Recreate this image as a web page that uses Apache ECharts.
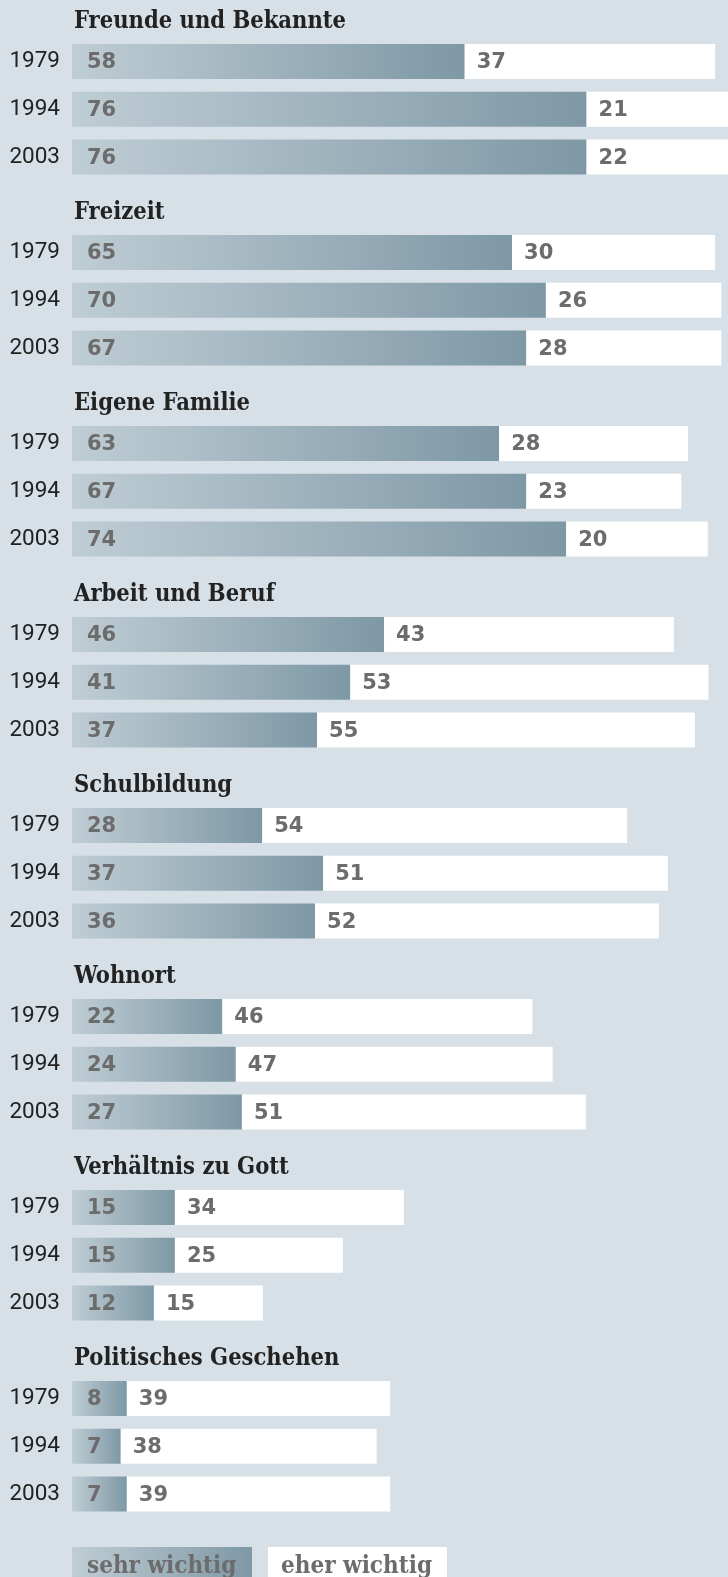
<!DOCTYPE html>
<html>
<head>
<meta charset="utf-8">
<script src="https://cdn.jsdelivr.net/npm/echarts@6/dist/echarts.min.js"></script>
<style>
html,body{margin:0;padding:0;background:#d7e0e7;}
#chart{width:728px;height:1577px;}
</style>
</head>
<body>
<div id="chart"></div>
<script>
// Categories
const groups = ['Freunde und Bekannte','Freizeit','Eigene Familie','Arbeit und Beruf','Schulbildung','Wohnort','Verhältnis zu Gott','Politisches Geschehen'];
const years = ['1979','1994','2003'];
// Bar lengths (percent)
const sehrWichtig = [[58,76,76],[65,70,67.1],[63.1,67.1,73],[46.1,41.1,36.2],[28.1,37.1,35.9],[22.2,24.2,25.1],[15.2,15.2,12.1],[8.1,7.2,8.1]];
const eherWichtig = [[37,21,22],[30,25.9,28.8],[27.9,22.9,20.9],[42.8,52.9,55.8],[53.9,50.9,50.8],[45.8,46.8,50.8],[33.8,24.8,16.1],[38.9,37.8,38.9]];
// Printed labels
const sehrLabels = [[58,76,76],[65,70,67],[63,67,74],[46,41,37],[28,37,36],[22,24,27],[15,15,12],[8,7,7]];
const eherLabels = [[37,21,22],[30,26,28],[28,23,20],[43,53,55],[54,51,52],[46,47,51],[34,25,15],[39,38,39]];
const legendNames = ['sehr wichtig','eher wichtig'];

const chart = echarts.init(document.getElementById('chart'));
const GROUP_STEP = 191, ROW = 47.7, FIRST = 61.5, LEFT = 72, PX_PER_UNIT = 6.77;
const AXIS_MAX = (728 - LEFT) / PX_PER_UNIT;
const grad = () => ({type:'linear',x:0,y:0,x2:1,y2:0,colorStops:[{offset:0,color:'#bfcdd4'},{offset:1,color:'#7e98a6'}]});
const labelFont = {fontFamily:'DejaVu Sans',fontWeight:'bold',fontSize:21,color:'#6c6c6c'};
const titleFont = '"DejaVu Serif Condensed","DejaVu Serif",serif';

const grids=[],xAxes=[],yAxes=[],series=[],graphics=[];
groups.forEach((g,i)=>{
  grids.push({left:LEFT,right:0,top:FIRST-ROW/2+GROUP_STEP*i,height:ROW*3});
  xAxes.push({gridIndex:i,type:'value',min:0,max:AXIS_MAX,show:false});
  yAxes.push({gridIndex:i,type:'category',data:years,inverse:true,
    axisLine:{show:false},axisTick:{show:false},splitLine:{show:false},
    axisLabel:{margin:12,fontSize:22.5,color:'#222',fontFamily:'Roboto,sans-serif'}});
  series.push({type:'bar',name:legendNames[0],xAxisIndex:i,yAxisIndex:i,stack:'s'+i,barWidth:35,clip:false,
    data:sehrWichtig[i],itemStyle:{color:grad()},
    label:{show:true,position:'insideLeft',distance:0,offset:[15,1.5],...labelFont,
      formatter:p=>String(sehrLabels[i][p.dataIndex])}});
  series.push({type:'bar',name:legendNames[1],xAxisIndex:i,yAxisIndex:i,stack:'s'+i,barWidth:35,clip:false,
    data:eherWichtig[i],itemStyle:{color:'#ffffff'},
    label:{show:true,position:'insideLeft',distance:0,offset:[12,1.5],...labelFont,
      formatter:p=>String(eherLabels[i][p.dataIndex])}});
  graphics.push({type:'text',x:74,y:22+GROUP_STEP*i,
    style:{text:g,fontFamily:titleFont,fontWeight:'bold',fontSize:23.5,fill:'#222',verticalAlign:'middle'}});
});
// legend
graphics.push({type:'rect',shape:{x:72,y:1547,width:180,height:35},style:{fill:grad()}});
graphics.push({type:'rect',shape:{x:268,y:1547,width:179,height:35},style:{fill:'#ffffff'}});
graphics.push({type:'text',x:87,y:1567,style:{text:legendNames[0],fontFamily:titleFont,fontWeight:'bold',fontSize:24,fill:'#6c6c6c',verticalAlign:'middle'}});
graphics.push({type:'text',x:281,y:1567,style:{text:legendNames[1],fontFamily:titleFont,fontWeight:'bold',fontSize:24,fill:'#6c6c6c',verticalAlign:'middle'}});

chart.setOption({
  backgroundColor:'#d7e0e7',
  animation:false,
  grid:grids,xAxis:xAxes,yAxis:yAxes,series:series,graphic:graphics
});
</script>
</body>
</html>
